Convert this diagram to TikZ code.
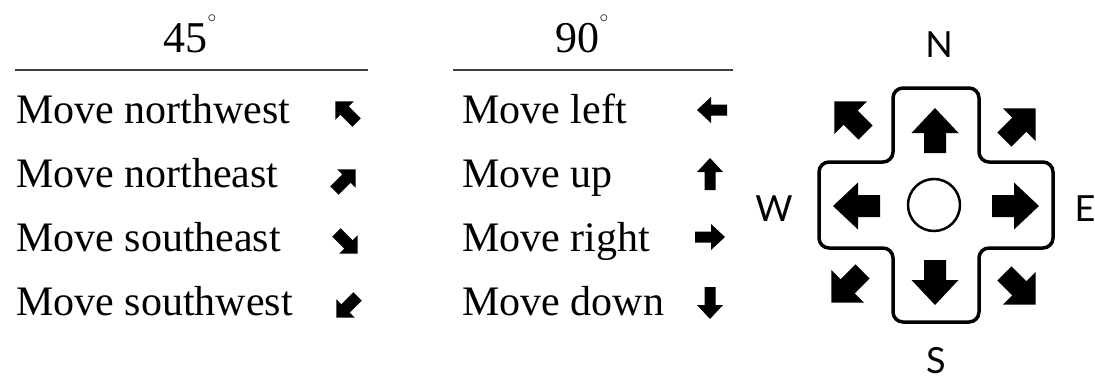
\documentclass[tikz,border=0pt]{standalone}
\usepackage{fontspec}
\setmainfont{Liberation Serif}
\newfontfamily\compassfont{Lato}
\newcommand{\degsign}{\raisebox{0.66em}{\fontsize{19}{19}\selectfont$\circ$}}
\tikzset{
  pics/barr/.style n args={4}{code={
    \fill[black] ({-#1/2},{#4}) -- ({#1/2-#2},{#4}) -- ({#1/2-#2},{#3}) -- ({#1/2},0)
      -- ({#1/2-#2},{-#3}) -- ({#1/2-#2},{-#4}) -- ({-#1/2},{-#4}) -- cycle;}},
  lbl/.style={anchor=base west, inner sep=0pt, font=\fontsize{42}{48}\selectfont},
  head/.style={anchor=base, inner sep=0pt, font=\fontsize{44}{50}\selectfont},
  rule/.style={line width=2.5pt, draw=black!75},
  dir/.style={inner sep=0pt, font=\compassfont\fontsize{36}{40}\selectfont},
}
\begin{document}
\begin{tikzpicture}[x=1pt,y=-1pt]
\useasboundingbox (0,0) rectangle (1095,383);
% headers
\node[head] (h45) at (190,52) {45\degsign};
\node[head] (h90) at (582,52) {90\degsign};
\coordinate (l1a) at (15,70); \coordinate (l1b) at (368,70);
\coordinate (l2a) at (453,70); \coordinate (l2b) at (733,70);
\draw[rule] (l1a) -- (l1b);
\draw[rule] (l2a) -- (l2b);
% 45 degree column
\node[lbl] (t1) at (16,123) {Move northwest};
\node[lbl] (t2) at (16,187) {Move northeast};
\node[lbl] (t3) at (16,251) {Move southeast};
\node[lbl] (t4) at (16,315) {Move southwest};
\pic[rotate=135] at (346,112) {barr={30}{13}{13}{6}};
\pic[rotate=45] at (345,180) {barr={30}{13}{13}{6}};
\pic[rotate=-45] at (347,243) {barr={30}{13}{13}{6}};
\pic[rotate=-135] at (347,307) {barr={30}{13}{13}{6}};
% 90 degree column
\node[lbl] (u1) at (462,123) {Move left};
\node[lbl] (u2) at (462,187) {Move up};
\node[lbl] (u3) at (462,251) {Move right};
\node[lbl] (u4) at (462,315) {Move down};
\pic[rotate=180] at (712,110) {barr={30}{14}{13}{5.5}};
\pic[rotate=90] at (710,174) {barr={32}{14}{13}{5.5}};
\pic[rotate=0] at (710,237) {barr={30}{14}{13}{5.5}};
\pic[rotate=270] at (710,303) {barr={32}{14}{13}{5.5}};
% d-pad
\draw[line width=3.5pt, rounded corners=10pt]
  (893,88) -- (979,88) -- (979,162) -- (1053,162) -- (1053,248) -- (979,248)
  -- (979,322) -- (893,322) -- (893,248) -- (819,248) -- (819,162) -- (893,162) -- cycle;
\node[circle, draw, line width=2.5pt, minimum size=52pt, inner sep=0pt] (ctr) at (934,205) {};
\pic[rotate=90] at (935,130.5) {barr={45}{25}{23.5}{11}};
\pic[rotate=270] at (935,282.5) {barr={45}{25}{23.5}{11}};
\pic[rotate=180] at (856.5,206) {barr={47}{25}{23.5}{11}};
\pic[rotate=0] at (1015.5,206) {barr={47}{25}{23.5}{11}};
\pic[rotate=135] at (850,117) {barr={44}{23}{23}{10}};
\pic[rotate=45] at (1020,124) {barr={44}{23}{23}{10}};
\pic[rotate=-135] at (847,287) {barr={44}{23}{23}{10}};
\pic[rotate=-45] at (1020,289) {barr={44}{23}{23}{10}};
\node[dir] (N) at (939,45) {N};
\node[dir] (W) at (774,209) {W};
\node[dir] (E) at (1085,209) {E};
\node[dir] (S) at (936,361) {S};
\end{tikzpicture}
\end{document}
